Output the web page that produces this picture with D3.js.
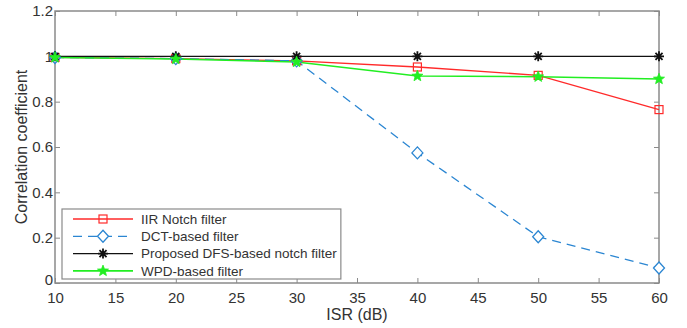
<!DOCTYPE html>
<html><head><meta charset="utf-8">
<script src="https://cdn.jsdelivr.net/npm/d3@7/dist/d3.min.js"></script>
<style>body{margin:0;background:#fff}svg{display:block}</style>
</head><body><svg id="c" width="687" height="328"></svg>
<script>
const isr = [10, 20, 30, 40, 50, 60];
const iirNotch = [0.995, 0.99, 0.98, 0.953, 0.916, 0.765];
const dctBased = [0.995, 0.99, 0.98, 0.574, 0.204, 0.066];
const proposedDFS = [1.0, 1.0, 1.0, 1.0, 1.0, 1.0];
const wpdBased = [0.995, 0.988, 0.975, 0.913, 0.91, 0.90];
const xTicks = [10, 15, 20, 25, 30, 35, 40, 45, 50, 55, 60];
const yTicks = [0, 0.2, 0.4, 0.6, 0.8, 1, 1.2];
const seriesNames = ["IIR Notch filter", "DCT-based filter", "Proposed DFS-based notch filter", "WPD-based filter"];

const series = [
  {name: seriesNames[0], values: iirNotch, color: "#ff2a2a", dash: null, marker: "square", width: 1.3},
  {name: seriesNames[1], values: dctBased, color: "#2b86d2", dash: "9,6", marker: "diamond", width: 1.3},
  {name: seriesNames[2], values: proposedDFS, color: "#111111", dash: null, marker: "asterisk", width: 1.3},
  {name: seriesNames[3], values: wpdBased, color: "#22ee22", dash: null, marker: "star", width: 1.6}
];

const svg = d3.select("#c");
const m = {l: 55, r: 28, t: 11, b: 45};
const W = 687, H = 328;
const x = d3.scaleLinear().domain([10, 60]).range([m.l, W - m.r]);
const y = d3.scaleLinear().domain([0, 1.2]).range([H - m.b, m.t]);
const axisColor = "#8a8a8a", textColor = "#333333";
const font = "Liberation Sans, Arial, sans-serif";

svg.append("rect").attr("x", m.l).attr("y", m.t).attr("width", x(60) - m.l).attr("height", y(0) - m.t)
  .attr("fill", "#fff").attr("stroke", axisColor).attr("stroke-width", 1.5);

function styleAxis(g) {
  g.select(".domain").remove();
  g.selectAll(".tick line").attr("stroke", axisColor).attr("stroke-width", 1);
  g.selectAll(".tick text").attr("fill", textColor).attr("font-family", font).attr("font-size", 15);
}
const fmtY = d => d === 0 ? "0" : d3.format("~g")(d);
svg.append("g").attr("transform", `translate(0,${y(0)})`)
  .call(d3.axisBottom(x).tickValues(xTicks).tickSize(-5).tickPadding(6)).call(styleAxis)
  .selectAll(".tick text").attr("dy", "0.95em");
svg.append("g").attr("transform", `translate(0,${m.t})`)
  .call(d3.axisTop(x).tickValues(xTicks).tickSize(-5).tickFormat("")).call(styleAxis);
const yAx = svg.append("g").attr("transform", `translate(${m.l},0)`)
  .call(d3.axisLeft(y).tickValues(yTicks).tickSize(-5).tickPadding(2).tickFormat(fmtY)).call(styleAxis);
yAx.selectAll(".tick text").filter(d => d === 0).attr("dy", "0.1em");
svg.append("g").attr("transform", `translate(${x(60)},0)`)
  .call(d3.axisRight(y).tickValues(yTicks).tickSize(-5).tickFormat("")).call(styleAxis);

svg.append("text").attr("x", (m.l + x(60)) / 2).attr("y", 320).attr("text-anchor", "middle")
  .attr("font-family", font).attr("font-size", 16).attr("fill", textColor).text("ISR (dB)");
svg.append("text").attr("transform", `translate(27,${(m.t + y(0)) / 2}) rotate(-90)`).attr("text-anchor", "middle")
  .attr("font-family", font).attr("font-size", 16).attr("fill", textColor).text("Correlation coefficient");

function drawMarker(g, type, cx, cy, color) {
  if (type === "square") {
    g.append("rect").attr("x", cx - 4).attr("y", cy - 4).attr("width", 8).attr("height", 8)
      .attr("fill", "none").attr("stroke", color).attr("stroke-width", 1.2);
  } else if (type === "diamond") {
    g.append("path").attr("d", `M${cx},${cy - 6}L${cx + 5.5},${cy}L${cx},${cy + 6}L${cx - 5.5},${cy}Z`)
      .attr("fill", "#fff").attr("stroke", color).attr("stroke-width", 1.3);
  } else if (type === "asterisk") {
    const r = 5;
    let d = "";
    for (let k = 0; k < 4; k++) {
      const a = k * Math.PI / 4;
      d += `M${cx - r * Math.cos(a)},${cy - r * Math.sin(a)}L${cx + r * Math.cos(a)},${cy + r * Math.sin(a)}`;
    }
    g.append("path").attr("d", d).attr("stroke", color).attr("stroke-width", 1.8);
  } else if (type === "star") {
    const pts = [];
    for (let k = 0; k < 10; k++) {
      const rr = k % 2 === 0 ? 5.8 : 2.5;
      const a = -Math.PI / 2 + k * Math.PI / 5;
      pts.push([cx + rr * Math.cos(a), cy + rr * Math.sin(a)]);
    }
    g.append("path").attr("d", "M" + pts.map(p => p.join(",")).join("L") + "Z")
      .attr("fill", color).attr("stroke", color).attr("stroke-width", 0.8);
  }
}

const line = d3.line().x((d, i) => x(isr[i])).y(d => y(d));
series.forEach(s => {
  svg.append("path").attr("d", line(s.values)).attr("fill", "none").attr("stroke", s.color)
    .attr("stroke-width", s.width).attr("stroke-dasharray", s.dash);
});
series.forEach(s => {
  const g = svg.append("g");
  s.values.forEach((v, i) => drawMarker(g, s.marker, x(isr[i]), y(v), s.color));
});

const lg = svg.append("g");
const lx = 62, ly = 209, rowH = 17.3;
const lbox = lg.append("rect").attr("x", lx).attr("y", ly).attr("height", 70).attr("fill", "#fff")
  .attr("stroke", axisColor).attr("stroke-width", 1.2);
let maxW = 0;
series.forEach((s, i) => {
  const cy = ly + 10 + i * rowH;
  lg.append("line").attr("x1", lx + 11).attr("x2", lx + 71).attr("y1", cy).attr("y2", cy)
    .attr("stroke", s.color).attr("stroke-width", s.width).attr("stroke-dasharray", s.dash);
  drawMarker(lg, s.marker, lx + 41, cy, s.color);
  const t = lg.append("text").attr("x", lx + 79).attr("y", cy).attr("dy", "0.35em")
    .attr("font-family", font).attr("font-size", 13.5).attr("fill", textColor).text(s.name);
  maxW = Math.max(maxW, t.node().getComputedTextLength());
});
lbox.attr("width", 79 + maxW + 4);
</script></body></html>
